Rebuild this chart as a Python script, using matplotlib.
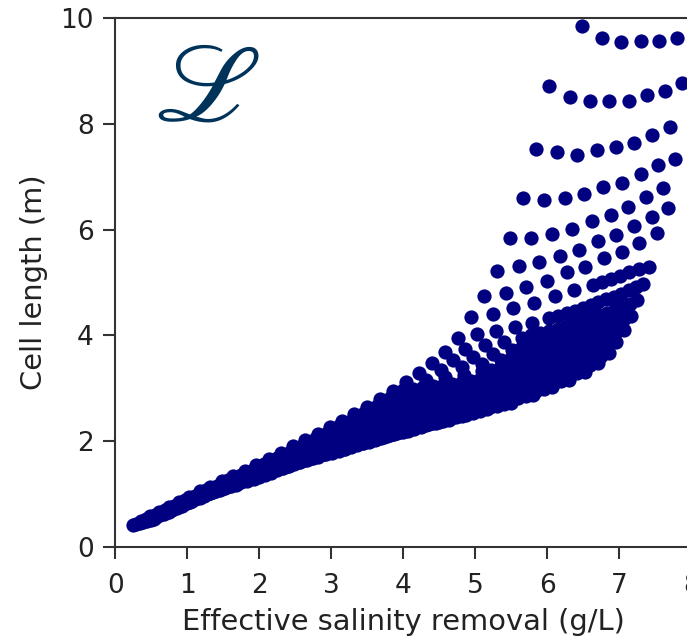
import matplotlib
matplotlib.use("Agg")
import matplotlib.pyplot as plt

plt.rcParams['font.family'] = ['DejaVu Sans']
plt.rcParams['mathtext.fontset'] = 'stix'

# Effective salinity removal (g/L) and cell length (m) for each operating row,
# one list per row, from the shortest (bottom-left) row up to the top row.
lower_rows_x = [
    [0.24, 0.29, 0.34, 0.39, 0.44, 0.49, 0.54],
    [0.36, 0.43, 0.49, 0.56, 0.62, 0.68, 0.74],
    [0.48, 0.55, 0.61, 0.67, 0.73, 0.79, 0.85, 0.91, 0.96],
    [0.61, 0.69, 0.77, 0.85, 0.92, 0.99, 1.06, 1.13, 1.20],
    [0.74, 0.82, 0.89, 0.97, 1.04, 1.11, 1.18, 1.25, 1.32, 1.39, 1.45],
    [0.88, 0.97, 1.06, 1.15, 1.23, 1.32, 1.40, 1.48, 1.56, 1.64, 1.72],
    [1.02, 1.11, 1.19, 1.28, 1.36, 1.45, 1.53, 1.61, 1.69, 1.77, 1.85,
     1.93, 2.00],
    [1.17, 1.26, 1.34, 1.43, 1.51, 1.59, 1.67, 1.75, 1.83, 1.91, 1.99,
     2.07, 2.15, 2.23, 2.30],
    [1.32, 1.41, 1.50, 1.59, 1.67, 1.76, 1.84, 1.92, 2.00, 2.08, 2.16,
     2.24, 2.31, 2.39, 2.46, 2.53, 2.60],
    [1.48, 1.57, 1.66, 1.75, 1.84, 1.92, 2.00, 2.09, 2.17, 2.25, 2.33,
     2.41, 2.48, 2.55, 2.62, 2.69, 2.76, 2.83, 2.90],
    [1.64, 1.74, 1.84, 1.94, 2.03, 2.13, 2.22, 2.31, 2.40, 2.49, 2.57,
     2.66, 2.74, 2.82, 2.90, 2.98, 3.06, 3.14, 3.21],
    [1.80, 1.91, 2.02, 2.13, 2.23, 2.34, 2.44, 2.54, 2.63, 2.73, 2.82,
     2.92, 3.01, 3.10, 3.19, 3.28, 3.36, 3.44, 3.52],
    [1.96, 2.07, 2.18, 2.29, 2.40, 2.50, 2.60, 2.70, 2.80, 2.90, 2.99,
     3.09, 3.18, 3.27, 3.35, 3.44, 3.52, 3.61, 3.69, 3.77, 3.84],
    [2.13, 2.25, 2.37, 2.49, 2.60, 2.71, 2.82, 2.93, 3.04, 3.14, 3.24,
     3.34, 3.44, 3.54, 3.64, 3.73, 3.82, 3.91, 3.99, 4.08, 4.16],
    [2.30, 2.42, 2.53, 2.64, 2.75, 2.86, 2.97, 3.08, 3.18, 3.29, 3.39,
     3.49, 3.58, 3.68, 3.78, 3.87, 3.96, 4.06, 4.15, 4.24, 4.32, 4.41, 4.49],
    [2.47, 2.60, 2.72, 2.84, 2.96, 3.08, 3.19, 3.30, 3.41, 3.52, 3.63,
     3.74, 3.85, 3.96, 4.06, 4.16, 4.26, 4.36, 4.45, 4.55, 4.64, 4.73, 4.82],
    [2.64, 2.77, 2.90, 3.03, 3.16, 3.29, 3.41, 3.53, 3.65, 3.77, 3.89,
     4.01, 4.12, 4.23, 4.34, 4.45, 4.56, 4.66, 4.76, 4.87, 4.97, 5.07, 5.16],
]
lower_rows_y = [
    [0.42, 0.44, 0.45, 0.47, 0.49, 0.51, 0.53],
    [0.50, 0.52, 0.54, 0.57, 0.60, 0.63, 0.67],
    [0.58, 0.60, 0.62, 0.65, 0.67, 0.70, 0.74, 0.78, 0.82],
    [0.67, 0.69, 0.71, 0.75, 0.78, 0.83, 0.87, 0.93, 0.98],
    [0.76, 0.78, 0.80, 0.83, 0.86, 0.90, 0.93, 0.98, 1.03, 1.09, 1.14],
    [0.86, 0.88, 0.90, 0.94, 0.97, 1.02, 1.06, 1.12, 1.17, 1.24, 1.30],
    [0.95, 0.97, 0.98, 1.01, 1.04, 1.08, 1.11, 1.16, 1.20, 1.26, 1.31,
     1.38, 1.44],
    [1.05, 1.07, 1.08, 1.10, 1.12, 1.15, 1.18, 1.22, 1.25, 1.30, 1.34,
     1.40, 1.45, 1.52, 1.58],
    [1.14, 1.16, 1.17, 1.19, 1.21, 1.24, 1.26, 1.29, 1.32, 1.36, 1.40,
     1.45, 1.49, 1.54, 1.59, 1.65, 1.70],
    [1.24, 1.26, 1.27, 1.30, 1.32, 1.35, 1.37, 1.41, 1.44, 1.47, 1.50,
     1.54, 1.57, 1.61, 1.64, 1.68, 1.72, 1.77, 1.81],
    [1.34, 1.36, 1.38, 1.40, 1.42, 1.45, 1.47, 1.51, 1.54, 1.58, 1.61,
     1.65, 1.68, 1.72, 1.75, 1.79, 1.83, 1.88, 1.92],
    [1.44, 1.46, 1.48, 1.50, 1.52, 1.55, 1.58, 1.62, 1.65, 1.68, 1.71,
     1.75, 1.78, 1.82, 1.85, 1.90, 1.94, 1.99, 2.03],
    [1.55, 1.57, 1.59, 1.61, 1.63, 1.66, 1.68, 1.71, 1.73, 1.76, 1.79,
     1.83, 1.86, 1.89, 1.92, 1.96, 1.99, 2.03, 2.06, 2.10, 2.14],
    [1.66, 1.68, 1.70, 1.72, 1.74, 1.77, 1.79, 1.82, 1.85, 1.88, 1.91,
     1.94, 1.97, 2.01, 2.04, 2.08, 2.11, 2.15, 2.18, 2.22, 2.26],
    [1.78, 1.80, 1.82, 1.84, 1.86, 1.88, 1.90, 1.93, 1.95, 1.98, 2.00,
     2.03, 2.05, 2.08, 2.11, 2.14, 2.17, 2.20, 2.23, 2.27, 2.30, 2.34, 2.37],
    [1.90, 1.92, 1.94, 1.96, 1.98, 2.00, 2.02, 2.05, 2.07, 2.10, 2.12,
     2.15, 2.17, 2.20, 2.23, 2.26, 2.28, 2.32, 2.35, 2.38, 2.41, 2.45, 2.48],
    [2.02, 2.04, 2.06, 2.08, 2.10, 2.12, 2.14, 2.17, 2.19, 2.22, 2.24,
     2.27, 2.29, 2.32, 2.35, 2.38, 2.40, 2.44, 2.47, 2.50, 2.53, 2.57, 2.60],
]

middle_rows_x = [
    [2.81, 2.94, 3.06, 3.18, 3.30, 3.42, 3.54, 3.66, 3.78, 3.90, 4.01,
     4.13, 4.24, 4.35, 4.46, 4.57, 4.68, 4.79, 4.89, 5.00, 5.10, 5.20,
     5.30, 5.40, 5.50],
    [2.98, 3.11, 3.24, 3.37, 3.50, 3.62, 3.75, 3.88, 4.00, 4.12, 4.24,
     4.36, 4.48, 4.60, 4.71, 4.83, 4.94, 5.05, 5.16, 5.27, 5.38, 5.49,
     5.59, 5.70, 5.80],
    [3.15, 3.29, 3.42, 3.55, 3.68, 3.81, 3.94, 4.07, 4.20, 4.33, 4.45,
     4.57, 4.69, 4.81, 4.93, 5.05, 5.17, 5.29, 5.40, 5.51, 5.62, 5.73,
     5.84, 5.95, 6.06],
    [3.32, 3.46, 3.60, 3.74, 3.87, 4.00, 4.13, 4.26, 4.39, 4.52, 4.65,
     4.78, 4.90, 5.03, 5.15, 5.27, 5.39, 5.51, 5.62, 5.74, 5.85, 5.97,
     6.08, 6.19, 6.30],
    [3.50, 3.64, 3.78, 3.92, 4.05, 4.19, 4.32, 4.46, 4.59, 4.72, 4.85,
     4.98, 5.10, 5.23, 5.35, 5.47, 5.59, 5.71, 5.83, 5.95, 6.07, 6.19,
     6.30, 6.41, 6.52],
    [3.68, 3.82, 3.96, 4.10, 4.23, 4.37, 4.50, 4.64, 4.77, 4.90, 5.03,
     5.16, 5.28, 5.41, 5.53, 5.65, 5.77, 5.89, 6.01, 6.13, 6.25, 6.37,
     6.48, 6.59, 6.70],
    [3.86, 4.00, 4.14, 4.28, 4.41, 4.55, 4.68, 4.81, 4.94, 5.07, 5.19,
     5.32, 5.45, 5.57, 5.69, 5.81, 5.93, 6.05, 6.17, 6.29, 6.40, 6.52,
     6.63, 6.74, 6.85],
    [4.04, 4.31, 4.58, 4.84, 5.09, 5.22, 5.34, 5.47, 5.59, 5.71, 5.83,
     5.95, 6.06, 6.18, 6.30, 6.41, 6.52, 6.63, 6.74, 6.85, 6.96],
    [4.22, 4.52, 4.81, 5.09, 5.36, 5.50, 5.63, 5.76, 5.89, 6.02, 6.14,
     6.26, 6.38, 6.50, 6.61, 6.73, 6.84, 6.95, 7.06],
    [4.40, 4.69, 4.97, 5.24, 5.51, 5.64, 5.77, 5.90, 6.02, 6.14, 6.26,
     6.38, 6.50, 6.62, 6.73, 6.84, 6.95, 7.06, 7.16],
    [4.58, 4.86, 5.13, 5.40, 5.65, 5.78, 5.90, 6.03, 6.15, 6.27, 6.38,
     6.50, 6.61, 6.72, 6.83, 6.94, 7.04, 7.15, 7.25],
    [4.76, 5.03, 5.29, 5.55, 5.79, 6.03, 6.15, 6.27, 6.38, 6.49, 6.60,
     6.71, 6.82, 6.93, 7.03, 7.13, 7.23, 7.33],
]
middle_rows_y = [
    [2.14, 2.16, 2.17, 2.19, 2.21, 2.23, 2.25, 2.27, 2.29, 2.32, 2.34,
     2.37, 2.39, 2.42, 2.44, 2.47, 2.49, 2.52, 2.55, 2.58, 2.61, 2.64,
     2.67, 2.70, 2.73],
    [2.26, 2.28, 2.30, 2.32, 2.34, 2.36, 2.38, 2.40, 2.42, 2.45, 2.47,
     2.50, 2.52, 2.55, 2.57, 2.60, 2.63, 2.66, 2.69, 2.72, 2.75, 2.78,
     2.81, 2.85, 2.88],
    [2.39, 2.41, 2.43, 2.45, 2.47, 2.49, 2.51, 2.53, 2.55, 2.58, 2.60,
     2.63, 2.65, 2.68, 2.71, 2.74, 2.76, 2.79, 2.82, 2.86, 2.89, 2.92,
     2.95, 2.99, 3.02],
    [2.52, 2.54, 2.56, 2.58, 2.60, 2.62, 2.64, 2.67, 2.69, 2.72, 2.74,
     2.77, 2.79, 2.82, 2.84, 2.87, 2.90, 2.93, 2.96, 2.99, 3.02, 3.06,
     3.09, 3.13, 3.16],
    [2.65, 2.67, 2.69, 2.71, 2.73, 2.75, 2.77, 2.80, 2.82, 2.85, 2.87,
     2.90, 2.93, 2.96, 2.98, 3.01, 3.04, 3.07, 3.10, 3.14, 3.17, 3.21,
     3.24, 3.28, 3.31],
    [2.80, 2.82, 2.84, 2.86, 2.88, 2.91, 2.93, 2.95, 2.97, 3.00, 3.03,
     3.06, 3.08, 3.11, 3.14, 3.17, 3.20, 3.23, 3.26, 3.30, 3.33, 3.37,
     3.40, 3.44, 3.47],
    [2.95, 2.97, 2.99, 3.02, 3.04, 3.06, 3.08, 3.11, 3.14, 3.17, 3.19,
     3.22, 3.25, 3.28, 3.31, 3.34, 3.37, 3.41, 3.44, 3.48, 3.51, 3.55,
     3.58, 3.62, 3.66],
    [3.12, 3.16, 3.21, 3.26, 3.32, 3.35, 3.38, 3.41, 3.44, 3.47, 3.50,
     3.54, 3.57, 3.61, 3.64, 3.68, 3.72, 3.76, 3.80, 3.84, 3.88],
    [3.29, 3.34, 3.40, 3.46, 3.53, 3.57, 3.60, 3.64, 3.67, 3.71, 3.75,
     3.79, 3.83, 3.88, 3.92, 3.97, 4.01, 4.06, 4.11],
    [3.47, 3.53, 3.59, 3.65, 3.73, 3.77, 3.80, 3.84, 3.88, 3.93, 3.97,
     4.02, 4.06, 4.11, 4.15, 4.21, 4.26, 4.31, 4.36],
    [3.68, 3.74, 3.81, 3.88, 3.96, 4.00, 4.05, 4.09, 4.13, 4.18, 4.23,
     4.28, 4.33, 4.38, 4.43, 4.49, 4.54, 4.60, 4.66],
    [3.95, 4.02, 4.09, 4.16, 4.24, 4.33, 4.37, 4.42, 4.47, 4.52, 4.57,
     4.63, 4.68, 4.73, 4.79, 4.85, 4.91, 4.97],
]

upper_rows_x = [
    [4.94, 5.24, 5.53, 5.81, 6.10, 6.37, 6.63, 6.76, 6.88, 7.01, 7.14,
     7.27, 7.41],
    [5.12, 5.42, 5.71, 5.99, 6.27, 6.53, 6.79, 7.04, 7.28, 7.52],
    [5.30, 5.60, 5.89, 6.17, 6.44, 6.71, 6.96, 7.21, 7.45, 7.68],
    [5.48, 5.77, 6.06, 6.34, 6.62, 6.88, 7.12, 7.37, 7.61],
    [5.66, 5.95, 6.24, 6.51, 6.78, 7.04, 7.30, 7.54, 7.78],
    [5.84, 6.13, 6.41, 6.69, 6.95, 7.21, 7.46, 7.71],
    [6.02, 6.31, 6.59, 6.86, 7.13, 7.38, 7.63, 7.87],
    [6.48, 6.76, 7.03, 7.30, 7.55, 7.80],
]
upper_rows_y = [
    [4.34, 4.40, 4.51, 4.62, 4.74, 4.85, 4.96, 5.01, 5.07, 5.13, 5.19,
     5.25, 5.30],
    [4.75, 4.81, 4.91, 5.02, 5.19, 5.30, 5.46, 5.58, 5.74, 5.93],
    [5.22, 5.31, 5.39, 5.50, 5.62, 5.78, 5.89, 6.06, 6.24, 6.41],
    [5.85, 5.85, 5.92, 6.02, 6.16, 6.28, 6.43, 6.61, 6.78],
    [6.60, 6.56, 6.60, 6.67, 6.81, 6.89, 7.06, 7.23, 7.34],
    [7.52, 7.46, 7.41, 7.50, 7.56, 7.63, 7.78, 7.94],
    [8.71, 8.50, 8.44, 8.43, 8.44, 8.55, 8.62, 8.78],
    [9.85, 9.63, 9.55, 9.57, 9.57, 9.62],
]

x_ticks = [0, 1, 2, 3, 4, 5, 6, 7, 8]
y_ticks = [0, 2, 4, 6, 8, 10]

point_color = '#000080'
axis_color = '#333333'
text_color = '#222222'

fig = plt.figure(figsize=(6.87, 6.38), dpi=100)
# the x axis runs 0..8; its right end sits just past the figure edge
ax = fig.add_axes([115.3 / 687, 91 / 638, 8 * 72 / 687, 529 / 638])

for xs_group, ys_group in ((lower_rows_x, lower_rows_y),
                           (middle_rows_x, middle_rows_y),
                           (upper_rows_x, upper_rows_y)):
    for xs, ys in zip(xs_group, ys_group):
        ax.scatter(xs, ys, s=105, c=point_color, linewidths=0, zorder=3)

ax.set_xlim(0, 8)
ax.set_ylim(0, 10)
ax.set_xticks(x_ticks)
ax.set_yticks(y_ticks)

for side in ('left', 'bottom', 'top', 'right'):
    ax.spines[side].set_linewidth(1.5)
    ax.spines[side].set_color(axis_color)

ax.tick_params(direction='out', length=8.4, width=1.5, colors=axis_color,
               labelsize=19)
ax.tick_params(axis='x', pad=10)
ax.tick_params(axis='y', pad=7)
for lab in ax.get_xticklabels() + ax.get_yticklabels():
    lab.set_color(text_color)

ax.set_xlabel('Effective salinity removal (g/L)', fontsize=20.8,
              color=text_color, labelpad=7)
ax.set_ylabel('Cell length (m)', fontsize=20.8, color=text_color,
              labelpad=9)

fig.text(207 / 687, 1 - 90 / 638, r'$\mathscr{L}$', fontsize=80,
         color='#00335A', ha='center', va='center')

fig.savefig('out.png', dpi=100)
